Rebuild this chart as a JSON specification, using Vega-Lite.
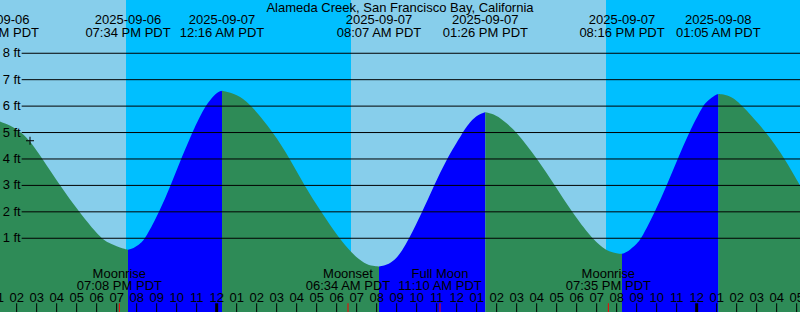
{
  "$schema": "https://vega.github.io/schema/vega-lite/v6.json",
  "width": 800,
  "height": 312,
  "autosize": {"type": "none"},
  "padding": 0,
  "background": "#87CEEB",
  "config": {"view": {"stroke": null}, "font": "Liberation Sans", "text": {"font": "Liberation Sans", "fontSize": 13, "color": "black"}},
  "datasets": {
    "night": [
      {"start": "2025-09-06T19:28", "end": "2025-09-07T06:43"},
      {"start": "2025-09-07T19:28", "end": "2025-09-08T06:44"}
    ],
    "tide": [
      {"t": "2025-09-06T12:59", "ft": 5.45, "seg": "s0", "dir": "fall"},
      {"t": "2025-09-06T13:10", "ft": 5.42, "seg": "s0", "dir": "fall"},
      {"t": "2025-09-06T13:40", "ft": 5.28, "seg": "s0", "dir": "fall"},
      {"t": "2025-09-06T14:15", "ft": 5.0, "seg": "s0", "dir": "fall"},
      {"t": "2025-09-06T14:40", "ft": 4.69, "seg": "s0", "dir": "fall"},
      {"t": "2025-09-06T15:15", "ft": 4.05, "seg": "s0", "dir": "fall"},
      {"t": "2025-09-06T16:10", "ft": 3.0, "seg": "s0", "dir": "fall"},
      {"t": "2025-09-06T17:07", "ft": 2.0, "seg": "s0", "dir": "fall"},
      {"t": "2025-09-06T18:10", "ft": 1.02, "seg": "s0", "dir": "fall"},
      {"t": "2025-09-06T18:40", "ft": 0.80, "seg": "s0", "dir": "fall"},
      {"t": "2025-09-06T19:00", "ft": 0.70, "seg": "s0", "dir": "fall"},
      {"t": "2025-09-06T19:20", "ft": 0.60, "seg": "s0", "dir": "fall"},
      {"t": "2025-09-06T19:34", "ft": 0.57, "seg": "s0", "dir": "fall"},
      {"t": "2025-09-06T19:34", "ft": 0.57, "seg": "s1", "dir": "rise"},
      {"t": "2025-09-06T19:50", "ft": 0.61, "seg": "s1", "dir": "rise"},
      {"t": "2025-09-06T20:10", "ft": 0.78, "seg": "s1", "dir": "rise"},
      {"t": "2025-09-06T20:27", "ft": 1.0, "seg": "s1", "dir": "rise"},
      {"t": "2025-09-06T21:08", "ft": 2.0, "seg": "s1", "dir": "rise"},
      {"t": "2025-09-06T21:42", "ft": 3.0, "seg": "s1", "dir": "rise"},
      {"t": "2025-09-06T22:13", "ft": 4.0, "seg": "s1", "dir": "rise"},
      {"t": "2025-09-06T22:47", "ft": 5.0, "seg": "s1", "dir": "rise"},
      {"t": "2025-09-06T23:00", "ft": 5.35, "seg": "s1", "dir": "rise"},
      {"t": "2025-09-06T23:25", "ft": 6.0, "seg": "s1", "dir": "rise"},
      {"t": "2025-09-06T23:55", "ft": 6.45, "seg": "s1", "dir": "rise"},
      {"t": "2025-09-07T00:06", "ft": 6.55, "seg": "s1", "dir": "rise"},
      {"t": "2025-09-07T00:16", "ft": 6.58, "seg": "s1", "dir": "rise"},
      {"t": "2025-09-07T00:16", "ft": 6.58, "seg": "s2", "dir": "fall"},
      {"t": "2025-09-07T00:36", "ft": 6.53, "seg": "s2", "dir": "fall"},
      {"t": "2025-09-07T01:10", "ft": 6.38, "seg": "s2", "dir": "fall"},
      {"t": "2025-09-07T01:46", "ft": 6.0, "seg": "s2", "dir": "fall"},
      {"t": "2025-09-07T02:50", "ft": 5.0, "seg": "s2", "dir": "fall"},
      {"t": "2025-09-07T03:40", "ft": 4.0, "seg": "s2", "dir": "fall"},
      {"t": "2025-09-07T04:23", "ft": 3.0, "seg": "s2", "dir": "fall"},
      {"t": "2025-09-07T05:13", "ft": 2.0, "seg": "s2", "dir": "fall"},
      {"t": "2025-09-07T06:07", "ft": 1.0, "seg": "s2", "dir": "fall"},
      {"t": "2025-09-07T06:45", "ft": 0.43, "seg": "s2", "dir": "fall"},
      {"t": "2025-09-07T07:25", "ft": 0.02, "seg": "s2", "dir": "fall"},
      {"t": "2025-09-07T07:50", "ft": -0.05, "seg": "s2", "dir": "fall"},
      {"t": "2025-09-07T08:07", "ft": -0.07, "seg": "s2", "dir": "fall"},
      {"t": "2025-09-07T08:07", "ft": -0.07, "seg": "s3", "dir": "rise"},
      {"t": "2025-09-07T08:30", "ft": -0.02, "seg": "s3", "dir": "rise"},
      {"t": "2025-09-07T08:55", "ft": 0.18, "seg": "s3", "dir": "rise"},
      {"t": "2025-09-07T09:15", "ft": 0.50, "seg": "s3", "dir": "rise"},
      {"t": "2025-09-07T09:38", "ft": 1.0, "seg": "s3", "dir": "rise"},
      {"t": "2025-09-07T10:17", "ft": 2.0, "seg": "s3", "dir": "rise"},
      {"t": "2025-09-07T10:52", "ft": 3.0, "seg": "s3", "dir": "rise"},
      {"t": "2025-09-07T11:30", "ft": 4.0, "seg": "s3", "dir": "rise"},
      {"t": "2025-09-07T12:18", "ft": 5.0, "seg": "s3", "dir": "rise"},
      {"t": "2025-09-07T12:40", "ft": 5.41, "seg": "s3", "dir": "rise"},
      {"t": "2025-09-07T13:05", "ft": 5.68, "seg": "s3", "dir": "rise"},
      {"t": "2025-09-07T13:26", "ft": 5.77, "seg": "s3", "dir": "rise"},
      {"t": "2025-09-07T13:26", "ft": 5.77, "seg": "s4", "dir": "fall"},
      {"t": "2025-09-07T13:50", "ft": 5.71, "seg": "s4", "dir": "fall"},
      {"t": "2025-09-07T14:20", "ft": 5.47, "seg": "s4", "dir": "fall"},
      {"t": "2025-09-07T15:02", "ft": 5.0, "seg": "s4", "dir": "fall"},
      {"t": "2025-09-07T16:02", "ft": 4.0, "seg": "s4", "dir": "fall"},
      {"t": "2025-09-07T16:55", "ft": 3.0, "seg": "s4", "dir": "fall"},
      {"t": "2025-09-07T17:45", "ft": 2.0, "seg": "s4", "dir": "fall"},
      {"t": "2025-09-07T18:45", "ft": 1.0, "seg": "s4", "dir": "fall"},
      {"t": "2025-09-07T19:20", "ft": 0.62, "seg": "s4", "dir": "fall"},
      {"t": "2025-09-07T19:40", "ft": 0.49, "seg": "s4", "dir": "fall"},
      {"t": "2025-09-07T20:00", "ft": 0.43, "seg": "s4", "dir": "fall"},
      {"t": "2025-09-07T20:16", "ft": 0.41, "seg": "s4", "dir": "fall"},
      {"t": "2025-09-07T20:16", "ft": 0.41, "seg": "s5", "dir": "rise"},
      {"t": "2025-09-07T20:35", "ft": 0.50, "seg": "s5", "dir": "rise"},
      {"t": "2025-09-07T21:00", "ft": 0.78, "seg": "s5", "dir": "rise"},
      {"t": "2025-09-07T21:15", "ft": 1.0, "seg": "s5", "dir": "rise"},
      {"t": "2025-09-07T21:55", "ft": 2.0, "seg": "s5", "dir": "rise"},
      {"t": "2025-09-07T22:30", "ft": 3.0, "seg": "s5", "dir": "rise"},
      {"t": "2025-09-07T23:03", "ft": 4.0, "seg": "s5", "dir": "rise"},
      {"t": "2025-09-07T23:37", "ft": 5.0, "seg": "s5", "dir": "rise"},
      {"t": "2025-09-08T00:18", "ft": 6.0, "seg": "s5", "dir": "rise"},
      {"t": "2025-09-08T00:30", "ft": 6.17, "seg": "s5", "dir": "rise"},
      {"t": "2025-09-08T00:50", "ft": 6.38, "seg": "s5", "dir": "rise"},
      {"t": "2025-09-08T01:05", "ft": 6.46, "seg": "s5", "dir": "rise"},
      {"t": "2025-09-08T01:05", "ft": 6.46, "seg": "s6", "dir": "fall"},
      {"t": "2025-09-08T01:25", "ft": 6.43, "seg": "s6", "dir": "fall"},
      {"t": "2025-09-08T01:50", "ft": 6.32, "seg": "s6", "dir": "fall"},
      {"t": "2025-09-08T02:18", "ft": 6.0, "seg": "s6", "dir": "fall"},
      {"t": "2025-09-08T03:30", "ft": 5.0, "seg": "s6", "dir": "fall"},
      {"t": "2025-09-08T04:25", "ft": 4.0, "seg": "s6", "dir": "fall"},
      {"t": "2025-09-08T05:10", "ft": 3.0, "seg": "s6", "dir": "fall"}
    ],
    "levels": [
      {"ft": 1, "label": "1 ft"}, {"ft": 2, "label": "2 ft"}, {"ft": 3, "label": "3 ft"}, {"ft": 4, "label": "4 ft"},
      {"ft": 5, "label": "5 ft"}, {"ft": 6, "label": "6 ft"}, {"ft": 7, "label": "7 ft"}, {"ft": 8, "label": "8 ft"}
    ],
    "extremes": [
      {"t": "2025-09-06T12:59", "date": "2025-09-06", "time": "12:59 PM PDT"},
      {"t": "2025-09-06T19:34", "date": "2025-09-06", "time": "07:34 PM PDT"},
      {"t": "2025-09-07T00:16", "date": "2025-09-07", "time": "12:16 AM PDT"},
      {"t": "2025-09-07T08:07", "date": "2025-09-07", "time": "08:07 AM PDT"},
      {"t": "2025-09-07T13:26", "date": "2025-09-07", "time": "01:26 PM PDT"},
      {"t": "2025-09-07T20:16", "date": "2025-09-07", "time": "08:16 PM PDT"},
      {"t": "2025-09-08T01:05", "date": "2025-09-08", "time": "01:05 AM PDT"}
    ],
    "moon": [
      {"t": "2025-09-06T19:08", "ev": "Moonrise", "time": "07:08 PM PDT"},
      {"t": "2025-09-07T06:34", "ev": "Moonset", "time": "06:34 AM PDT"},
      {"t": "2025-09-07T11:10", "ev": "Full Moon", "time": "11:10 AM PDT"},
      {"t": "2025-09-07T19:35", "ev": "Moonrise", "time": "07:35 PM PDT"}
    ],
    "hours": [
      {"t": "2025-09-06T13:00"}, {"t": "2025-09-06T14:00"}, {"t": "2025-09-06T15:00"}, {"t": "2025-09-06T16:00"},
      {"t": "2025-09-06T17:00"}, {"t": "2025-09-06T18:00"}, {"t": "2025-09-06T19:00"}, {"t": "2025-09-06T20:00"},
      {"t": "2025-09-06T21:00"}, {"t": "2025-09-06T22:00"}, {"t": "2025-09-06T23:00"}, {"t": "2025-09-07T00:00"},
      {"t": "2025-09-07T01:00"}, {"t": "2025-09-07T02:00"}, {"t": "2025-09-07T03:00"}, {"t": "2025-09-07T04:00"},
      {"t": "2025-09-07T05:00"}, {"t": "2025-09-07T06:00"}, {"t": "2025-09-07T07:00"}, {"t": "2025-09-07T08:00"},
      {"t": "2025-09-07T09:00"}, {"t": "2025-09-07T10:00"}, {"t": "2025-09-07T11:00"}, {"t": "2025-09-07T12:00"},
      {"t": "2025-09-07T13:00"}, {"t": "2025-09-07T14:00"}, {"t": "2025-09-07T15:00"}, {"t": "2025-09-07T16:00"},
      {"t": "2025-09-07T17:00"}, {"t": "2025-09-07T18:00"}, {"t": "2025-09-07T19:00"}, {"t": "2025-09-07T20:00"},
      {"t": "2025-09-07T21:00"}, {"t": "2025-09-07T22:00"}, {"t": "2025-09-07T23:00"}, {"t": "2025-09-08T00:00"},
      {"t": "2025-09-08T01:00"}, {"t": "2025-09-08T02:00"}, {"t": "2025-09-08T03:00"}, {"t": "2025-09-08T04:00"},
      {"t": "2025-09-08T05:00"}
    ],
    "now": [
      {"t": "2025-09-06T14:40", "ft": 4.69}
    ]
  },
  "layer": [
    {
      "data": {"name": "night", "format": {"parse": {"start": "date", "end": "date"}}},
      "mark": {"type": "rect", "color": "#00BFFF"},
      "encoding": {
        "x": {"field": "start", "type": "temporal", "axis": null,
              "scale": {"domain": [{"year": 2025, "month": 9, "date": 6, "hours": 13, "minutes": 10}, {"year": 2025, "month": 9, "date": 8, "hours": 5, "minutes": 10}]}},
        "x2": {"field": "end"}
      }
    },
    {
      "data": {"name": "tide", "format": {"parse": {"t": "date"}}},
      "mark": {"type": "area", "interpolate": "basis", "clip": true},
      "encoding": {
        "x": {"field": "t", "type": "temporal", "axis": null},
        "y": {"field": "ft", "type": "quantitative", "axis": null,
              "scale": {"domain": [-1.79, 10.015], "nice": false, "zero": false}},
        "y2": {"datum": -1.79},
        "color": {"field": "dir", "type": "nominal", "legend": null,
                  "scale": {"domain": ["rise", "fall"], "range": ["#0000FF", "#2E8B57"]}},
        "detail": {"field": "seg"}
      }
    },
    {
      "data": {"name": "levels"},
      "mark": {"type": "rule", "color": "black", "strokeWidth": 1},
      "encoding": {
        "y": {"field": "ft", "type": "quantitative"},
        "x": {"datum": {"year": 2025, "month": 9, "date": 6, "hours": 14, "minutes": 15}, "type": "temporal"},
        "x2": {"datum": {"year": 2025, "month": 9, "date": 8, "hours": 5, "minutes": 10}}
      }
    },
    {
      "data": {"name": "levels"},
      "mark": {"type": "text", "align": "left", "baseline": "alphabetic", "dy": 4},
      "encoding": {
        "y": {"field": "ft", "type": "quantitative"},
        "x": {"datum": {"year": 2025, "month": 9, "date": 6, "hours": 13, "minutes": 18}, "type": "temporal"},
        "text": {"field": "label"}
      }
    },
    {
      "data": {"name": "extremes", "format": {"parse": {"t": "date"}}},
      "mark": {"type": "text", "align": "center", "baseline": "alphabetic"},
      "encoding": {
        "x": {"field": "t", "type": "temporal"},
        "y": {"datum": 9.10},
        "text": {"field": "date"}
      }
    },
    {
      "data": {"name": "extremes", "format": {"parse": {"t": "date"}}},
      "mark": {"type": "text", "align": "center", "baseline": "alphabetic"},
      "encoding": {
        "x": {"field": "t", "type": "temporal"},
        "y": {"datum": 8.63},
        "text": {"field": "time"}
      }
    },
    {
      "data": {"name": "moon", "format": {"parse": {"t": "date"}}},
      "mark": {"type": "text", "align": "center", "baseline": "alphabetic"},
      "encoding": {
        "x": {"field": "t", "type": "temporal"},
        "y": {"datum": -0.51},
        "text": {"field": "ev"}
      }
    },
    {
      "data": {"name": "moon", "format": {"parse": {"t": "date"}}},
      "mark": {"type": "text", "align": "center", "baseline": "alphabetic"},
      "encoding": {
        "x": {"field": "t", "type": "temporal"},
        "y": {"datum": -0.96},
        "text": {"field": "time"}
      }
    },
    {
      "data": {"name": "hours", "format": {"parse": {"t": "date"}}},
      "mark": {"type": "rule", "color": "black"},
      "encoding": {
        "x": {"field": "t", "type": "temporal"},
        "y": {"datum": -1.46},
        "y2": {"datum": -1.79},
        "strokeWidth": {"condition": {"test": "hours(datum.t) === 0", "value": 3}, "value": 1}
      }
    },
    {
      "data": {"name": "hours", "format": {"parse": {"t": "date"}}},
      "mark": {"type": "text", "align": "center", "baseline": "alphabetic"},
      "encoding": {
        "x": {"field": "t", "type": "temporal"},
        "y": {"datum": -1.40},
        "text": {"field": "t", "type": "temporal", "format": "%I"}
      }
    },
    {
      "data": {"name": "moon", "format": {"parse": {"t": "date"}}},
      "mark": {"type": "rule", "color": "#FF0000", "strokeWidth": 1},
      "encoding": {
        "x": {"field": "t", "type": "temporal"},
        "y": {"datum": -1.46},
        "y2": {"datum": -1.79}
      }
    },
    {
      "data": {"values": [{"title": "Alameda Creek, San Francisco Bay, California"}]},
      "mark": {"type": "text", "align": "center", "baseline": "alphabetic"},
      "encoding": {
        "x": {"datum": {"year": 2025, "month": 9, "date": 7, "hours": 9, "minutes": 10}, "type": "temporal"},
        "y": {"datum": 9.57},
        "text": {"field": "title"}
      }
    },
    {
      "data": {"name": "now", "format": {"parse": {"t": "date"}}},
      "mark": {"type": "point", "shape": "M-1,0H1M0,-1V1", "size": 64, "filled": false, "color": "black", "strokeWidth": 1, "opacity": 1},
      "encoding": {
        "x": {"field": "t", "type": "temporal"},
        "y": {"field": "ft", "type": "quantitative"}
      }
    }
  ]
}
